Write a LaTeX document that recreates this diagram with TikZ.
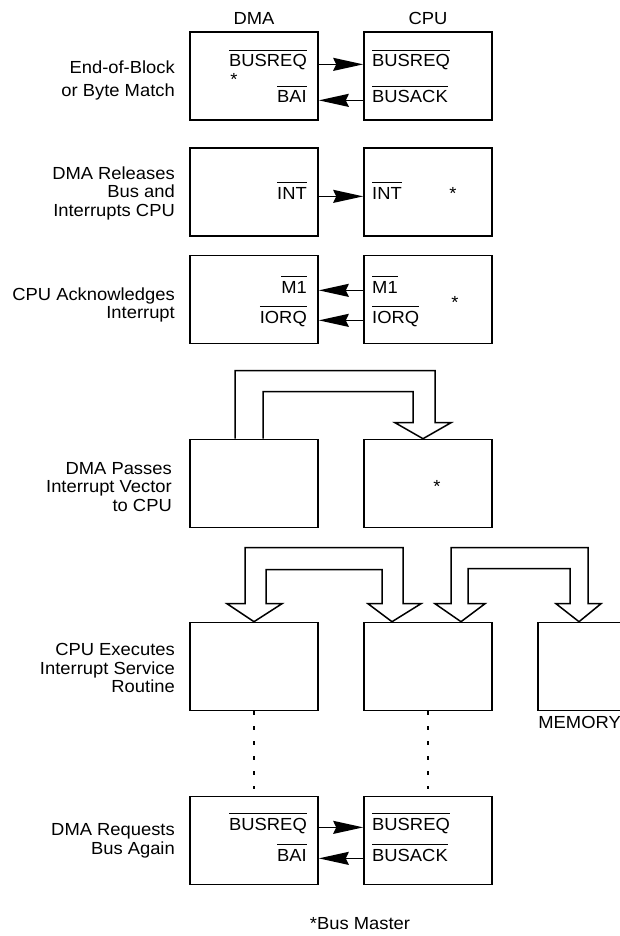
\documentclass[tikz,border=0pt]{standalone}
\usepackage{fontspec}
\setmainfont{Liberation Sans}[FakeStretch=1.05]
\usetikzlibrary{calc}
\usetikzlibrary{arrows.meta,positioning}
\tikzstyle{unit}=[draw,line width=1.6pt,minimum width=128pt,minimum height=88pt,inner sep=0pt]
\tikzstyle{sig}=[inner sep=0pt]
\tikzstyle{phase}=[align=right,inner sep=0pt,anchor=east]
\tikzstyle{bus}=[line width=1.5pt,line join=miter]
\tikzstyle{wire}=[line width=1.6pt,-{Stealth[length=30pt,width=13pt,inset=3pt]}]
\tikzstyle{trace}=[line width=1.3pt,dash pattern=on 4pt off 11pt]
\newcommand{\nsig}[1]{\vbox{\hrule height 1.2pt\kern 4pt\hbox{#1}}}

\begin{document}
\begin{tikzpicture}[x=1pt,y=-1pt,node distance=174pt,font=\fontsize{17.5}{18.5}\selectfont]
	\useasboundingbox (0,0) rectangle (620,936);
	\node[unit] (dma1) at (254,76) {};
	\node[unit] (cpu1) [right of=dma1] {};
	\node[unit] (dma2) at (254,192) {};
	\node[unit] (cpu2) [right of=dma2] {};
	\node[unit] (dma3) at (254,299.5) {};
	\node[unit] (cpu3) [right of=dma3] {};
	\node[unit] (dma4) at (254,483.5) {};
	\node[unit] (cpu4) [right of=dma4] {};
	\node[unit] (dma5) at (254,666.5) {};
	\node[unit] (cpu5) [right of=dma5] {};
	\node[unit] (mem) [right of=cpu5] {};
	\node[unit] (dma6) at (254,840.5) {};
	\node[unit] (cpu6) [right of=dma6] {};
	\node[sig,above=6pt of dma1] (hdma) {DMA};
	\node[sig,above=6pt of cpu1] (hcpu) {CPU};
	\node[sig,anchor=north west] (mlbl) at ([xshift=1pt,yshift=-5pt]mem.south west) {MEMORY};
	\node[sig] (note) at (360,924) {*Bus Master};

	\node[phase] (p1) at (175,80.5) {End-of-Block\\[4pt]or Byte Match};
	\node[phase] (p2) at (175,193) {DMA Releases\\Bus and\\Interrupts CPU};
	\node[phase] (p3) at (175,305) {CPU Acknowledges\\Interrupt};
	\node[phase] (p4) at (172,487) {DMA Passes\\Interrupt Vector\\to CPU};
	\node[phase] (p5) at (175,668) {CPU Executes\\Interrupt Service\\Routine};
	\node[phase] (p6) at (175,841) {DMA Requests\\Bus Again};

	\node[sig,anchor=base] (s1) at (234,85.5) {*};
	\node[sig,anchor=base] (s2) at (453,199.5) {*};
	\node[sig,anchor=base] (s3) at (455,308.5) {*};
	\node[sig,anchor=base] (s4) at (437,492.5) {*};

	\node[sig,anchor=base east] (dreq1) at (307,67) {\nsig{BUSREQ}};
	\node[sig,anchor=base east] (dbai1) at (307,103) {\nsig{BAI}};
	\node[sig,anchor=base west] (creq1) at (372,67) {\nsig{BUSREQ}};
	\node[sig,anchor=base west] (cack1) at (372,103) {\nsig{BUSACK}};
	\node[sig,anchor=base east] (dint2) at (307,199) {\nsig{INT}};
	\node[sig,anchor=base west] (cint2) at (372,199) {\nsig{INT}};
	\node[sig,anchor=base east] (dmone3) at (307,293) {\nsig{M1}};
	\node[sig,anchor=base east] (diorq3) at (307,323) {\nsig{IORQ}};
	\node[sig,anchor=base west] (cmone3) at (372,293) {\nsig{M1}};
	\node[sig,anchor=base west] (ciorq3) at (372,323) {\nsig{IORQ}};
	\node[sig,anchor=base east] (dreq6) at (307,830) {\nsig{BUSREQ}};
	\node[sig,anchor=base east] (dbai6) at (307,861) {\nsig{BAI}};
	\node[sig,anchor=base west] (creq6) at (372,830) {\nsig{BUSREQ}};
	\node[sig,anchor=base west] (cack6) at (372,861) {\nsig{BUSACK}};

	\draw[wire] (dma1.east |- dreq1.mid) -- (cpu1.west |- dreq1.mid);
	\draw[wire] (cpu1.west |- dbai1.mid) -- (dma1.east |- dbai1.mid);
	\draw[wire] (dma2.east |- dint2.mid) -- (cpu2.west |- dint2.mid);
	\draw[wire] (cpu3.west |- dmone3.mid) -- (dma3.east |- dmone3.mid);
	\draw[wire] (cpu3.west |- diorq3.mid) -- (dma3.east |- diorq3.mid);
	\draw[wire] (dma6.east |- dreq6.mid) -- (cpu6.west |- dreq6.mid);
	\draw[wire] (cpu6.west |- dbai6.mid) -- (dma6.east |- dbai6.mid);

	\draw[bus] ([xshift=-19pt]dma4.north) |- ([xshift=7pt,yshift=68pt]cpu4.north)
		-- ([xshift=7pt,yshift=16pt]cpu4.north) -- ++(16,0) -- ([xshift=-5pt]cpu4.north)
		-- ([xshift=-33pt,yshift=16pt]cpu4.north) -- ++(18,0)
		|- ([xshift=9pt,yshift=47pt]dma4.north) -- ([xshift=9pt]dma4.north);
	\draw[bus] (dma5.north) -- ([xshift=-27pt,yshift=18pt]dma5.north) -- ++(18,0)
		|- ([xshift=-25pt,yshift=74pt]cpu5.north) -- ([xshift=-25pt,yshift=18pt]cpu5.north)
		-- ++(18,0) -- ([xshift=-36pt]cpu5.north) -- ([xshift=-60pt,yshift=18pt]cpu5.north)
		-- ++(14,0) |- ([xshift=12pt,yshift=52pt]dma5.north)
		-- ([xshift=12pt,yshift=18pt]dma5.north) -- ([xshift=28pt,yshift=18pt]dma5.north) -- cycle;
	\draw[bus] ([xshift=33pt]cpu5.north) -- ([xshift=7pt,yshift=18pt]cpu5.north) -- ++(16,0)
		|- ([xshift=-14pt,yshift=74pt]mem.north) -- ([xshift=-14pt,yshift=18pt]mem.north)
		-- ++(13,0) -- ([xshift=-23pt]mem.north) -- ([xshift=-46pt,yshift=18pt]mem.north)
		-- ++(14,0) |- ([xshift=40pt,yshift=53pt]cpu5.north)
		-- ([xshift=40pt,yshift=18pt]cpu5.north) -- ([xshift=57pt,yshift=18pt]cpu5.north) -- cycle;

	\draw[trace] (dma5.south) -- ([yshift=7pt]dma6.north);
	\draw[trace] (cpu5.south) -- ([yshift=7pt]cpu6.north);
\end{tikzpicture}
\end{document}
